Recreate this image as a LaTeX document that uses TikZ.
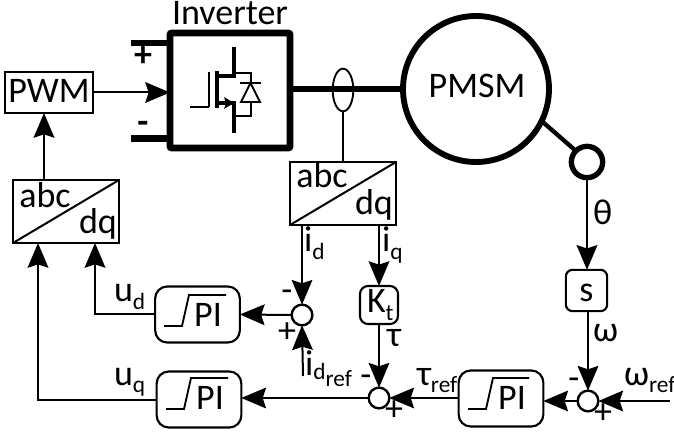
\documentclass[tikz,border=0pt]{standalone}
\usepackage{fontspec}
\setmainfont{Carlito}
\usetikzlibrary{arrows.meta,calc,shapes.geometric}
\newcommand{\subf}[1]{\raisebox{-5.5pt}{\fontsize{17.5}{19}\selectfont #1}}
\tikzset{
  x=0.75pt,y=-0.75pt,
  every node/.style={inner sep=0pt,outer sep=0pt,font=\fontsize{27}{32}\selectfont},
  txt/.style={anchor=base},
  txtl/.style={anchor=base west},
  sign/.style={font=\fontsize{27}{32}\selectfont},
  wire/.style={line width=1.5pt,line cap=butt},
  arr/.style={wire,-{Stealth[length=18.5pt,width=15.5pt,inset=2.5pt]}},
  power/.style={line width=4.6pt},
  squarebox/.style={draw,line width=1.6pt,fill=white},
  conv/.style={squarebox,minimum width=79.5pt,minimum height=47.25pt},
  pibox/.style={draw,line width=1.6pt,rounded corners=9pt,minimum width=63.5pt,minimum height=42pt},
  sumnode/.style={circle,draw,line width=1.8pt,fill=white,minimum size=15.5pt},
  pistep/.style={line width=1.4pt}
}
\begin{document}
\begin{tikzpicture}
\useasboundingbox (0,0) rectangle (674,434);
% power stage
\node[draw,line width=5.2pt,rounded corners=1.5pt,minimum width=90pt,minimum height=86.25pt] (inv) at (230,90.5) {};
\node[txt] (invlabel) at (230,25) {Inverter};
\node[circle,draw,line width=4.4pt,minimum size=109.5pt] (pmsm) at (476,89) {};
\node[txt] (pmsmlabel) at (477,98) {PMSM};
\node[circle,draw,line width=4pt,fill=white,minimum size=23.5pt] (enc) at (587,162) {};
\coordinate (dcp) at (131,43);
\coordinate (dcn) at (131,138.5);
\draw[power] (dcp) -- (dcp -| inv.west);
\draw[power] (dcn) -- (dcn -| inv.west);
\node[sign] (plus0) at (143,57) {\bfseries +};
\node[sign] (minus0) at (143,127) {\bfseries -};
\coordinate (invout) at (inv.east |- pmsm.west);
\draw[power] (invout) -- (pmsm.west);
\draw[line width=3.2pt] (pmsm.-26) -- (enc.135);
% transistor
\draw[line width=3pt] (234,47) -- (234,76) -- (217,76);
\draw[line width=3pt] (217,103) -- (234,103) -- (234,133);
\draw[line width=3.6pt] (217,71) -- (217,108);
\draw[line width=1.6pt] (209,72) -- (209,107);
\draw[line width=2pt] (190,107) -- (209,107);
\fill (234,103) -- (224,97) -- (226,103) -- (224,109) -- cycle;
\draw[line width=1.2pt] (234,73) -- (251,73) -- (251,116) -- (234,116);
\draw[line width=1.4pt,fill=white] (250.5,83) -- (241,102) -- (260,102) -- cycle;
\draw[line width=1.4pt] (240,83) -- (261,83);
% current sensor
\node[draw,ellipse,line width=1.4pt,minimum width=15.5pt,minimum height=32pt] (sens) at (343,90) {};
% converters
\node[conv] (abcm) at (343,193.5) {};
\draw[wire] (abcm.south west) -- (abcm.north east);
\node[txt] (abcmt) at (322,188) {abc};
\node[txt] (dqmt) at (374,215) {dq};
\node[conv] (abcl) at (66,211.5) {};
\draw[wire] (abcl.south west) -- (abcl.north east);
\node[txt] (abclt) at (45,208) {abc};
\node[txt] (dqlt) at (98,234) {dq};
\draw[wire] (sens.south) -- (abcm.north -| sens.south);
% PWM
\node[squarebox,minimum width=66pt,minimum height=30.75pt] (pwm) at (49,92.5) {};
\node[txt] (pwmt) at (49,103) {PWM};
\draw[arr] (pwm.east) -- (inv.west |- pwm.east);
\coordinate (lup) at (44,180);
\draw[arr] (lup) -- (lup |- pwm.south);
% controllers
\node[pibox] (pi1) at (197.5,314.5) {};
\node[pibox] (pi2) at (199,399.5) {};
\node[pibox] (pi3) at (501,398.5) {};
\draw[pistep] (164,326) -- (182,326) -- (189,295) -- (226,295);
\node[txt] (pi1t) at (208,326) {PI};
\draw[pistep] (166,409) -- (184,409) -- (191,378) -- (228,378);
\node[txt] (pi2t) at (210,409) {PI};
\draw[pistep] (468,409) -- (486,409) -- (493,378) -- (529,378);
\node[txt] (pi3t) at (512,409) {PI};
% summing junctions
\node[sumnode] (s1) at (302,315) {};
\node[sumnode] (s2) at (379,398) {};
\node[sumnode] (s3) at (588,401) {};
% gain blocks
\node[draw,line width=1.6pt,rounded corners=6pt,minimum width=28.5pt,minimum height=28.5pt] (kt) at (379,305) {};
\node[txtl] (ktt) at (367,313) {K\subf{t}};
\node[draw,line width=1.6pt,rounded corners=5pt,minimum width=31pt,minimum height=31pt] (sb) at (586.5,290.5) {};
\node[txt] (st) at (586.5,301) {s};
% signal connectors
\coordinate (ua) at (38,243);
\coordinate (ub) at (95,243);
\draw[arr] (pi1.west) -| (ub);
\draw[arr] (pi2.west) -| (ua);
\draw[arr] (s1.west) -- (pi1.east);
\draw[arr] (s2.west) -- (s2.west -| pi2.east);
\draw[arr] (pi3.west |- s2.east) -- (s2.east);
\draw[arr] (s3.west) -- (s3.west -| pi3.east);
\coordinate (idtop) at (302,225);
\draw[arr] (idtop) -- (s1.north);
\draw[arr] (abcm.south -| kt.north) -- (kt.north);
\draw[arr] (kt.south) -- (s2.north);
\draw[arr] (enc.south) -- (enc.south |- sb.north);
\draw[arr] (sb.south -| s3.north) -- (s3.north);
\coordinate (wref) at (670,401);
\draw[arr] (wref) -- (s3.east);
\coordinate (idref) at (303,376);
\draw[arr] (idref) -- (s1.south);
% labels
\node[txtl] (idl) at (304,252) {i\subf{d}};
\node[txtl] (iql) at (382,252) {i\subf{q}};
\node[txtl] (udl) at (114,302) {u\subf{d}};
\node[txtl] (uql) at (114,385) {u\subf{q}};
\node[txtl] (taul) at (387,346) {τ};
\node[txtl] (thetal) at (593,225) {θ};
\node[txtl] (omegal) at (593,341) {ω};
\node[txtl] (wrefl) at (624,385) {ω\subf{ref}};
\node[txtl] (trefl) at (417,385) {τ\subf{ref}};
\node[txtl] (idrefl) at (305,375) {i\raisebox{-3.5pt}{\fontsize{17.5}{19}\selectfont d}\raisebox{-8.5pt}{\fontsize{17.5}{19}\selectfont ref}};
\node[sign] (m1) at (287,296) {-};
\node[sign] (p1) at (287,333) {+};
\node[sign] (m2) at (366,381) {-};
\node[sign] (p2) at (394,411) {+};
\node[sign] (m3) at (574,384) {-};
\node[sign] (p3) at (603,414) {+};
\end{tikzpicture}
\end{document}
